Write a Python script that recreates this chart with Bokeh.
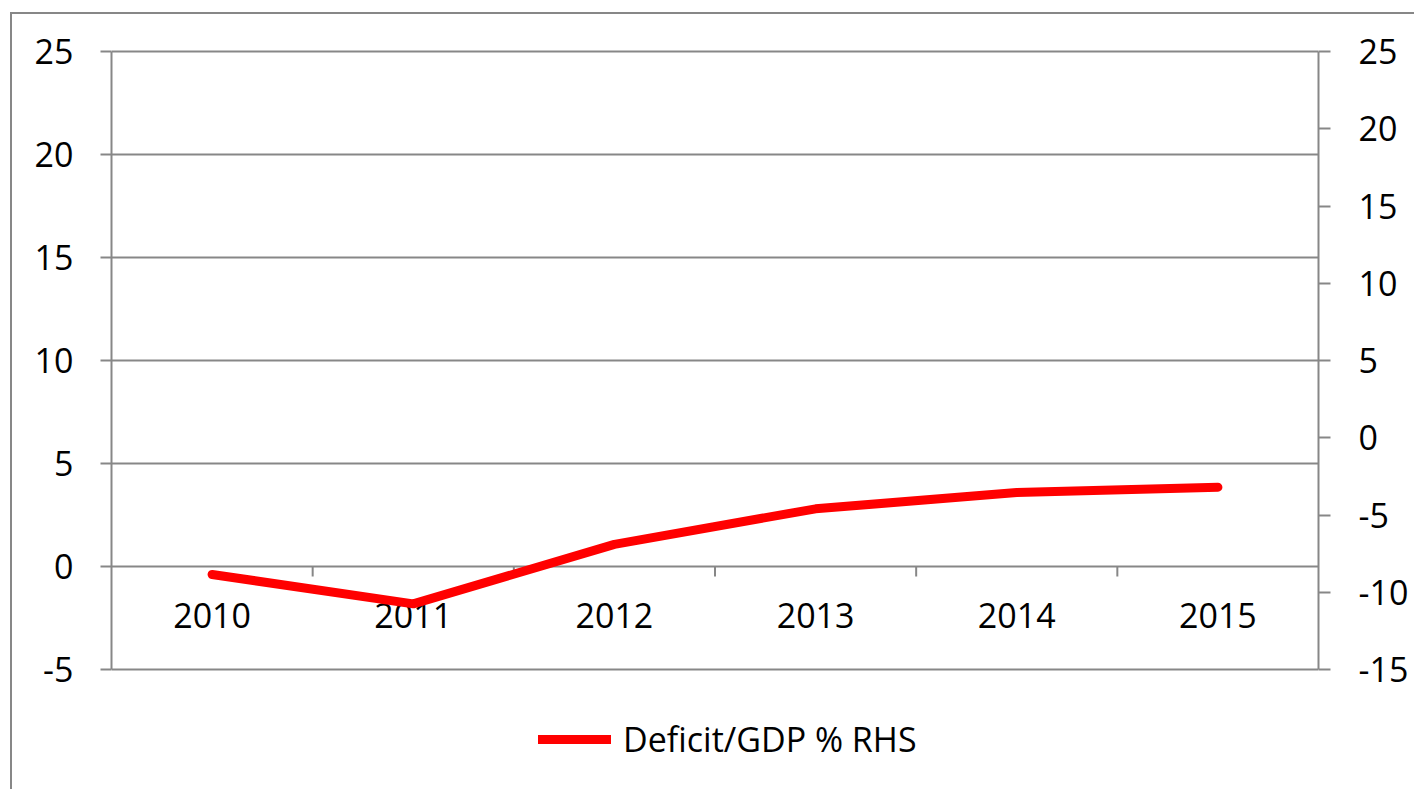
from bokeh.plotting import figure
from bokeh.models import Range1d, LinearAxis, FixedTicker, Legend, LegendItem
from bokeh.core.properties import value
from bokeh.embed import file_html
from bokeh.resources import INLINE

years = ["2010", "2011", "2012", "2013", "2014", "2015"]
deficit_gdp = [-8.85, -10.75, -6.9, -4.6, -3.55, -3.2]
left_ticks = [-5, 0, 5, 10, 15, 20, 25]
right_ticks = [-15, -10, -5, 0, 5, 10, 15, 20, 25]
series_name = "Deficit/GDP % RHS"

GRAY = "#878787"
FONT = "Open Sans"
FS = "34px"

# layout (pixels)
W, H = 1404, 777
AXIS_PX = 618          # height of the -5..25 axis span
EXTRA_TOP = 7          # frame extends above the axis top
EXTRA_BOTTOM = 110     # frame extends below the axis bottom (legend room)

n = len(years)
xs = [i + 0.5 for i in range(n)]
bounds = list(range(1, n))

lo_l, hi_l = left_ticks[0], left_ticks[-1]
lo_r, hi_r = right_ticks[0], right_ticks[-1]
ppu_l = AXIS_PX / (hi_l - lo_l)
ppu_r = AXIS_PX / (hi_r - lo_r)

p = figure(width=W, height=H, x_range=Range1d(0, n),
           y_range=Range1d(lo_l - EXTRA_BOTTOM / ppu_l, hi_l + EXTRA_TOP / ppu_l),
           x_axis_location=None, output_backend="svg", toolbar_location=None,
           min_border_left=99, min_border_right=98, min_border_top=30,
           min_border_bottom=12)
p.styles = {"border-top": "2px solid #878787", "border-left": "2px solid #878787",
            "margin-left": "10px", "margin-top": "12px"}
p.outline_line_color = None
p.background_fill_color = "white"
p.border_fill_color = "white"
p.xgrid.visible = False
p.ygrid.ticker = FixedTicker(ticks=left_ticks)
p.ygrid.grid_line_color = GRAY
p.ygrid.grid_line_width = 2

def style_axis(ax, standoff, tick_out, ticks):
    ax.ticker = FixedTicker(ticks=ticks)
    ax.bounds = (ticks[0], ticks[-1])
    ax.major_label_overrides = {t: str(t) for t in ticks}
    ax.axis_line_color = GRAY
    ax.axis_line_width = 2
    ax.major_tick_line_color = GRAY
    ax.major_tick_line_width = 2
    ax.major_tick_in = 0
    ax.major_tick_out = tick_out
    ax.minor_tick_line_color = None
    ax.major_label_text_font = FONT
    ax.major_label_text_font_size = FS
    ax.major_label_text_color = "black"
    ax.major_label_standoff = standoff

style_axis(p.yaxis[0], 27, 11, left_ticks)

p.extra_y_ranges = {"rhs": Range1d(lo_r - EXTRA_BOTTOM / ppu_r, hi_r + EXTRA_TOP / ppu_r)}
ry = LinearAxis(y_range_name="rhs")
style_axis(ry, 28, 12, right_ticks)
p.add_layout(ry, "right")

# category axis line at y = 0 is the 0 gridline; boundary tick marks below it
p.ray(x=bounds, y=[0] * len(bounds), length=10, length_units="screen",
      angle=-1.5707963267948966, line_color=GRAY, line_width=2)

# category labels
p.text(x=xs, y=[0] * n, text=years, text_align="center", text_baseline="middle",
       y_offset=49, text_font=value(FONT), text_font_size=FS, text_color="black")

r = p.line(xs, deficit_gdp, y_range_name="rhs", line_color="#FF0000",
           line_width=9, line_cap="round", line_join="round")

legend = Legend(items=[LegendItem(label=series_name, renderers=[r])],
                location=(427, 17), orientation="horizontal", glyph_width=73,
                glyph_height=34, label_height=34, label_standoff=12,
                label_text_font=FONT, label_text_font_size=FS,
                label_text_color="black", border_line_color=None,
                background_fill_alpha=0, padding=0, margin=0)
p.add_layout(legend)

open("out.html", "w").write(file_html(p, INLINE))
